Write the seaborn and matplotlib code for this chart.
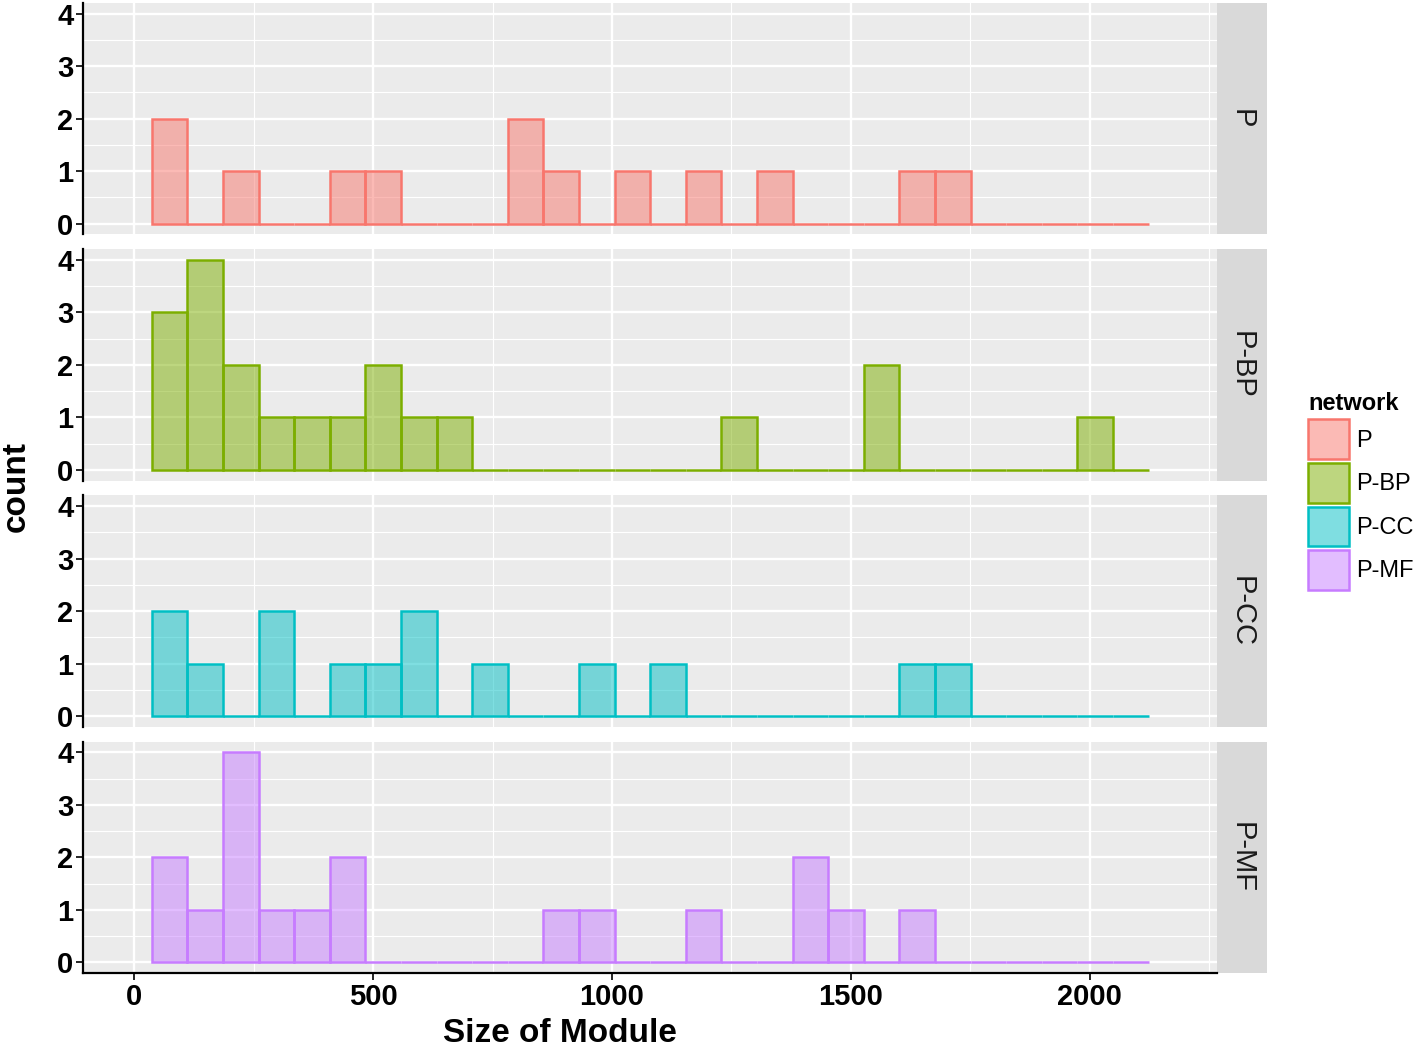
import numpy as np
import pandas as pd
import seaborn as sns
from matplotlib import pyplot as plt
from matplotlib.patches import Patch, Rectangle
from matplotlib.ticker import MultipleLocator
from matplotlib.colors import to_rgba

# histogram bins
bin_start = 37
bin_width = 74.5
n_bins = 28

networks = ["P", "P-BP", "P-CC", "P-MF"]
colors = ["#F8766D", "#7CAE00", "#00BFC4", "#C77CFF"]

counts_p = [2, 0, 1, 0, 0, 1, 1, 0, 0, 0, 2, 1, 0, 1, 0, 1, 0, 1, 0, 0, 0, 1, 1, 0, 0, 0, 0, 0]
counts_bp = [3, 4, 2, 1, 1, 1, 2, 1, 1, 0, 0, 0, 0, 0, 0, 0, 1, 0, 0, 0, 2, 0, 0, 0, 0, 0, 1, 0]
counts_cc = [2, 1, 0, 2, 0, 1, 1, 2, 0, 1, 0, 0, 1, 0, 1, 0, 0, 0, 0, 0, 0, 1, 1, 0, 0, 0, 0, 0]
counts_mf = [2, 1, 4, 1, 1, 2, 0, 0, 0, 0, 0, 1, 1, 0, 0, 1, 0, 0, 2, 1, 0, 1, 0, 0, 0, 0, 0, 0]
all_counts = [counts_p, counts_bp, counts_cc, counts_mf]

x_ticks = [0, 500, 1000, 1500, 2000]
y_ticks = [0, 1, 2, 3, 4]

plt.rcParams["font.family"] = ["Liberation Sans", "DejaVu Sans"]

edges = list(bin_start + bin_width * np.arange(n_bins + 1))
centers = [(a + b) / 2 for a, b in zip(edges[:-1], edges[1:])]

W, H = 1418, 1049
fig = plt.figure(figsize=(W / 100, H / 100), dpi=100)
axes = fig.subplots(4, 1, sharex=True)
panel_h = 232
fig.subplots_adjust(left=83 / W, right=1217 / W, top=1 - 3 / H, bottom=1 - 973 / H,
                    hspace=15 / panel_h)
panel_w = 1217 - 83

for i, (ax, name, col, cnt) in enumerate(zip(axes, networks, colors, all_counts)):
    ax.set_facecolor("#EBEBEB")
    df = pd.DataFrame({"size": centers, "n": cnt})
    sns.histplot(data=df, x="size", weights="n", bins=edges, ax=ax, color=col,
                 element="bars", legend=False)
    for p in ax.patches:
        p.set_alpha(None)
        p.set_facecolor(to_rgba(col, 0.5))
        p.set_edgecolor(col)
        p.set_linewidth(1.8)

    ax.set_xlim(-107, 2266)
    ax.set_ylim(-0.2, 4.2)
    ax.xaxis.set_major_locator(MultipleLocator(500))
    ax.xaxis.set_minor_locator(MultipleLocator(250))
    ax.set_yticks(y_ticks)
    ax.yaxis.set_minor_locator(MultipleLocator(0.5))
    ax.set_axisbelow(True)
    ax.grid(which="major", color="white", linewidth=1.7)
    ax.grid(which="minor", color="white", linewidth=0.8)
    ax.set_ylabel("")
    ax.set_xlabel("")

    for s in ["top", "right"]:
        ax.spines[s].set_visible(False)
    ax.spines["left"].set_color("black")
    ax.spines["left"].set_linewidth(1.6)
    if i < 3:
        ax.spines["bottom"].set_visible(False)
        ax.tick_params(axis="x", which="both", bottom=False, labelbottom=False)
    else:
        ax.spines["bottom"].set_color("black")
        ax.spines["bottom"].set_linewidth(1.6)
    ax.tick_params(axis="both", which="major", length=5, width=1.2, colors="black",
                   labelsize=21, pad=2)
    ax.tick_params(axis="both", which="minor", length=0)
    for lab in ax.get_yticklabels():
        lab.set_fontweight("bold")

    # facet strip on the right
    sw = 50 / panel_w
    ax.add_patch(Rectangle((1.0, 0), sw, 1, transform=ax.transAxes,
                           facecolor="#D9D9D9", edgecolor="none", clip_on=False))
    ax.text(1.0 + sw / 2, 0.5, name, transform=ax.transAxes, rotation=-90,
            ha="center", va="center", fontsize=21, color="#1A1A1A")

axes[-1].set_xticks(x_ticks)
for lab in axes[-1].get_xticklabels():
    lab.set_fontweight("bold")

fig.text(560 / W, 1 - 1034 / H, "Size of Module", ha="center", va="center",
         fontsize=24, fontweight="bold")
fig.text(16 / W, 1 - 487 / H, "count", rotation=90, ha="center", va="center",
         fontsize=24, fontweight="bold")

handles = [Patch(facecolor=to_rgba(c, 0.5), edgecolor=c, linewidth=1.8) for c in colors]
fig.legend(handles, networks, title="network", loc="upper left",
           bbox_to_anchor=(1299 / W, 1 - 383 / H), frameon=False,
           fontsize=17, title_fontproperties={"weight": "bold", "size": 17},
           handlelength=1.7, handleheight=2.2, labelspacing=0.17,
           handletextpad=0.3, borderaxespad=0, alignment="left")

fig.savefig("out.png", dpi=100)
